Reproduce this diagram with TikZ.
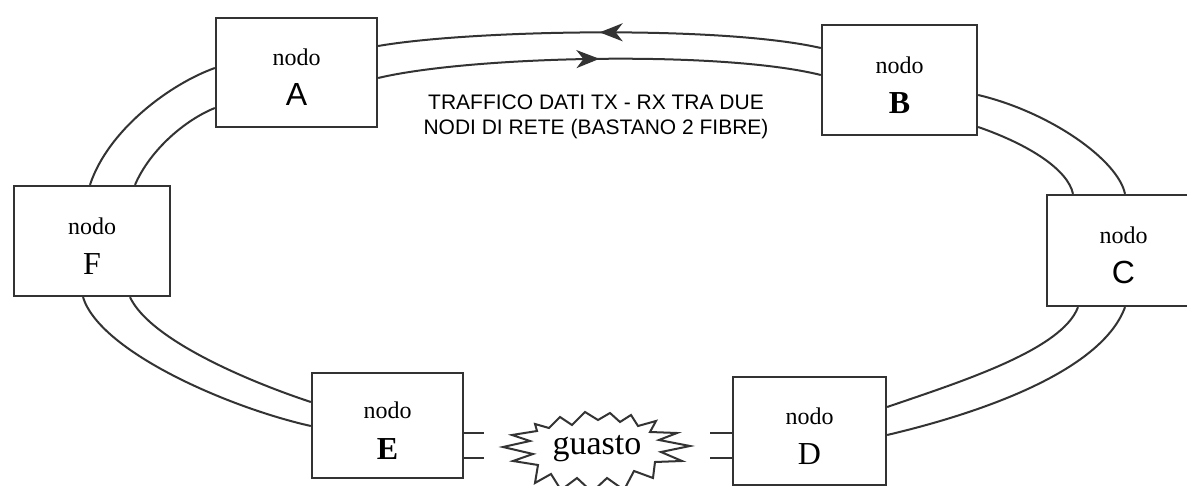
\documentclass[tikz,border=0pt]{standalone}
\usepackage{fontspec}
\setmainfont{Liberation Serif}
\newfontfamily\labelsans{Liberation Sans}
\usetikzlibrary{calc,arrows.meta,decorations.markings}

\definecolor{ink}{HTML}{333333}

% two-line label of a ring node: "nodo" over its letter
\newcommand{\nodoname}[1]{\rule{0pt}{27pt}nodo\\{\fontsize{32}{32}\selectfont #1}}

\begin{document}
\begin{tikzpicture}[x=1pt,y=-1pt,
  nodebox/.style={draw=ink, line width=2.3pt, fill=white, align=center,
    inner sep=0pt, font=\fontsize{24}{40}\selectfont},
  fibre/.style={draw=ink, line width=2pt},
  midarrow/.style={postaction={decorate},
    decoration={markings, mark=at position 0.5 with
      {\arrow{Stealth[length=23pt,width=18pt,inset=7pt]}}}},
  burst/.style={draw=ink, line width=2pt, fill=white, line join=miter}]

\useasboundingbox (0,0) rectangle (1187,486);
\fill[white] (0,0) rectangle (1187,486);

% ring nodes
\node[nodebox, minimum width=161pt, minimum height=109pt] (A) at (296.5,72.5) {\nodoname{\labelsans A}};
\node[nodebox, minimum width=155pt, minimum height=110pt] (B) at (899.5,80) {\nodoname{\textbf{B}}};
\node[nodebox, minimum width=153pt, minimum height=111pt] (C) at (1123.5,250.5) {\nodoname{\labelsans C}};
\node[nodebox, minimum width=153pt, minimum height=108pt] (D) at (809.5,431) {\nodoname{D}};
\node[nodebox, minimum width=151pt, minimum height=105pt] (E) at (387.5,425.5) {\nodoname{\textbf{E}}};
\node[nodebox, minimum width=156pt, minimum height=110pt] (F) at (92,241) {\nodoname{F}};

% A -- B: the two fibres with their directions of traffic
\draw[fibre, midarrow] ([yshift=32pt]B.west) .. controls (720,25) and (470,30) .. ([yshift=26.5pt]A.east);
\draw[fibre, midarrow] ([yshift=-5.5pt]A.east) .. controls (470,56) and (720,50) .. ([yshift=5pt]B.west);

\node[font=\labelsans\fontsize{21}{25}\selectfont, align=center] (traffic) at (596,117)
  {TRAFFICO DATI TX - RX TRA DUE\\NODI DI RETE (BASTANO 2 FIBRE)};

% B -- C
\draw[fibre] ([yshift=-15pt]B.east) .. controls (1050,112) and (1118,160) .. ([xshift=1.5pt]C.north);
\draw[fibre] ([yshift=-47pt]B.east) .. controls (1030,145) and (1068,170) .. ([xshift=-50.5pt]C.north);

% C -- D
\draw[fibre] ([xshift=-45.5pt]C.south) .. controls (1062,350) and (960,382) .. ([yshift=24pt]D.east);
\draw[fibre] ([xshift=1.5pt]C.south) .. controls (1102,370) and (985,412) .. ([yshift=-4pt]D.east);

% E -- F
\draw[fibre] ([xshift=38pt]F.south) .. controls (150,340) and (250,382) .. ([yshift=23.5pt]E.west);
\draw[fibre] ([xshift=-9pt]F.south) .. controls (100,352) and (230,408) .. ([yshift=-0.5pt]E.west);

% F -- A
\draw[fibre] ([xshift=-2pt]F.north) .. controls (108,130) and (170,84) .. ([yshift=4.5pt]A.west);
\draw[fibre] ([xshift=43pt]F.north) .. controls (150,150) and (185,120) .. ([yshift=-35.5pt]A.west);

% broken link D -- E
\coordinate (e1) at (484,433);
\coordinate (e2) at (484,458);
\coordinate (d1) at (710,433);
\coordinate (d2) at (710,458);
\draw[fibre] ([yshift=-7.5pt]E.east) -- (e1);
\draw[fibre] ([yshift=-32.5pt]E.east) -- (e2);
\draw[fibre] ([yshift=-2pt]D.west) -- (d1);
\draw[fibre] ([yshift=-27pt]D.west) -- (d2);

% fault burst
\draw[burst] (503,447) -- (530,441) -- (512,435) -- (537,431) -- (535,424) -- (549,428)
  -- (560,417) -- (572,425) -- (585,412) -- (598,420) -- (610,413) -- (620,422)
  -- (631,415) -- (638,426) -- (656,421) -- (650,432) -- (677,433) -- (659,440)
  -- (690,446) -- (661,452) -- (682,461) -- (655,462) -- (653,478) -- (634,471)
  -- (624,490) -- (607,478) -- (592,492) -- (577,478) -- (561,490) -- (551,474)
  -- (535,483) -- (538,465) -- (513,461) -- (533,454) -- cycle;
\node[font=\fontsize{34}{34}\selectfont, inner sep=0pt] (fault) at (597,449) {guasto};

\end{tikzpicture}
\end{document}
